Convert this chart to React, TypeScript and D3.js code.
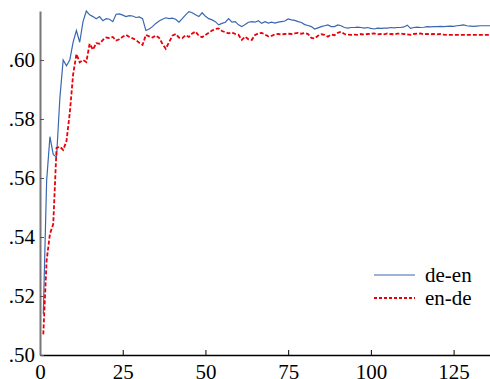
import React, { useRef, useEffect } from 'react';
import * as d3 from 'd3';

const deEn = [
  0.514, 0.559, 0.574, 0.568, 0.567, 0.587, 0.600, 0.598, 0.600, 0.606,
  0.610, 0.606, 0.613, 0.6166, 0.6153, 0.6147, 0.614, 0.6147, 0.6133, 0.614,
  0.6138, 0.613, 0.6155, 0.6156, 0.6152, 0.6147, 0.615, 0.6149, 0.6144, 0.6146,
  0.614, 0.61, 0.6105, 0.6113, 0.6124, 0.6132, 0.6138, 0.6143, 0.614, 0.6142,
  0.6138, 0.6128, 0.614, 0.6153, 0.6164, 0.616, 0.6153, 0.6147, 0.616, 0.6148,
  0.614, 0.6136, 0.613, 0.6119, 0.6124, 0.6128, 0.614, 0.6128, 0.613, 0.6119,
  0.6113, 0.612, 0.6128, 0.613, 0.6128, 0.6133, 0.6124, 0.613, 0.6125, 0.6128,
  0.6125, 0.6128, 0.613, 0.6132, 0.6139, 0.6136, 0.6134, 0.613, 0.6127, 0.612,
  0.6117, 0.6113, 0.6105, 0.6109, 0.6113, 0.6116, 0.6119, 0.6113, 0.6113, 0.6119,
  0.6116, 0.611, 0.6108, 0.611, 0.611, 0.6111, 0.611, 0.6108, 0.611, 0.6107,
  0.6105, 0.6108, 0.6107, 0.6108, 0.6108, 0.611, 0.6109, 0.611, 0.611, 0.6112,
  0.6118, 0.6107, 0.611, 0.6111, 0.611, 0.6111, 0.6113, 0.6112, 0.6113, 0.6113,
  0.6114, 0.6113, 0.6114, 0.6115, 0.6114, 0.6116, 0.6117, 0.6119, 0.6116, 0.6115,
  0.6114, 0.6115, 0.6116, 0.6116, 0.6116, 0.6116,
];

const enDe = [
  0.507, 0.532, 0.541, 0.5444, 0.5702, 0.5706, 0.5695, 0.5725, 0.582, 0.595,
  0.602, 0.5992, 0.600, 0.5993, 0.6055, 0.6035, 0.6057, 0.6055, 0.6068, 0.6076,
  0.6074, 0.6078, 0.6066, 0.607, 0.6079, 0.6085, 0.6078, 0.6073, 0.6068, 0.6058,
  0.6051, 0.6085, 0.608, 0.6076, 0.6083, 0.6075, 0.6055, 0.6038, 0.606, 0.6082,
  0.6088, 0.6076, 0.6074, 0.6084, 0.6078, 0.609, 0.6096, 0.6082, 0.6077, 0.6085,
  0.6092, 0.61, 0.6105, 0.6107, 0.6098, 0.6094, 0.609, 0.6093, 0.6088, 0.6085,
  0.6068, 0.6079, 0.607, 0.6068, 0.6085, 0.609, 0.6092, 0.6086, 0.608, 0.6082,
  0.6087, 0.6088, 0.6086, 0.6088, 0.6089, 0.6088, 0.609, 0.6092, 0.6089, 0.6091,
  0.6088, 0.6075, 0.6073, 0.6082, 0.6087, 0.6085, 0.6079, 0.6086, 0.6084, 0.6092,
  0.6096, 0.6088, 0.6086, 0.6085, 0.6086, 0.6085, 0.6088, 0.6086, 0.6088, 0.6089,
  0.609, 0.6087, 0.6088, 0.6087, 0.609, 0.6088, 0.6087, 0.6089, 0.609, 0.6088,
  0.6087, 0.6085, 0.6088, 0.6089, 0.609, 0.6087, 0.6088, 0.6087, 0.6088, 0.6087,
  0.6088, 0.6086, 0.6085, 0.6085, 0.6085, 0.6085, 0.6085, 0.6085, 0.6085, 0.6085,
  0.6085, 0.6085, 0.6085, 0.6085, 0.6085, 0.6085,
];

const seriesNames = ['de-en', 'en-de'];
const xTicks = [0, 25, 50, 75, 100, 125];
const yTicks = [0.5, 0.52, 0.54, 0.56, 0.58, 0.6];

const W = 490;
const H = 379;
const FONT = "'Liberation Serif', Tinos, 'Noto Serif', FreeSerif, 'Nimbus Roman', Times, 'DejaVu Serif', serif";

const App = () => {
  const svgRef = useRef<SVGSVGElement>(null);

  useEffect(() => {
    const svg = d3.select(svgRef.current);
    svg.selectAll('*').remove();

    const x = d3.scaleLinear().domain([0, 136]).range([40, 490]);
    const y = d3.scaleLinear().domain([0.5, 0.6166]).range([355, 11]);

    // x axis
    const xa = svg.append('g').attr('transform', `translate(0,${y(0.5)})`)
      .call(d3.axisBottom(x).tickValues(xTicks).tickSize(-5).tickPadding(8).tickSizeOuter(0));
    xa.attr('font-family', null).attr('font-size', null);
    xa.select('.domain').attr('stroke', '#000').attr('stroke-width', 1.5);
    xa.selectAll('.tick line').attr('stroke', '#000');
    xa.selectAll('.tick text').style('font-family', FONT).style('font-size', '21px').attr('fill', '#000')
      .attr('dy', '0.75em');

    // y axis
    const ya = svg.append('g').attr('transform', `translate(${x(0)},0)`)
      .call(d3.axisLeft(y).tickValues(yTicks).tickSize(-4).tickPadding(5).tickSizeOuter(0)
        .tickFormat((d) => d3.format('.2f')(d as number).replace(/^0/, '')));
    ya.attr('font-family', null).attr('font-size', null);
    ya.select('.domain').attr('stroke', '#777').attr('stroke-width', 2);
    ya.selectAll('.tick line').attr('stroke', '#555');
    ya.selectAll('.tick text').style('font-family', FONT).style('font-size', '21px').attr('fill', '#000');

    const line = d3.line<number>().x((d, i) => x(i + 1)).y((d) => y(d));

    svg.append('path').datum(deEn).attr('d', line)
      .attr('fill', 'none').attr('stroke', '#3a67b0').attr('stroke-width', 1.2);
    svg.append('path').datum(enDe).attr('d', line)
      .attr('fill', 'none').attr('stroke', '#e8000b').attr('stroke-width', 1.8)
      .attr('stroke-dasharray', '4,2');

    // legend
    const legend = svg.append('g');
    const styles = [
      { stroke: '#3a67b0', width: 1.2, dash: null },
      { stroke: '#e8000b', width: 1.8, dash: '3,2' },
    ];
    seriesNames.forEach((name, i) => {
      const ly = 275 + i * 23;
      legend.append('line').attr('x1', 374).attr('x2', 415).attr('y1', ly).attr('y2', ly)
        .attr('stroke', styles[i].stroke).attr('stroke-width', styles[i].width)
        .attr('stroke-dasharray', styles[i].dash);
      legend.append('text').attr('x', 425).attr('y', ly).attr('dy', '0.32em')
        .style('font-family', FONT).style('font-size', '21px').attr('fill', '#000').text(name);
    });
  }, []);

  return (
    <svg ref={svgRef} width={W} height={H}
      style={{ position: 'absolute', left: 0, top: 0, background: '#fff' }} />
  );
};

export default App;
